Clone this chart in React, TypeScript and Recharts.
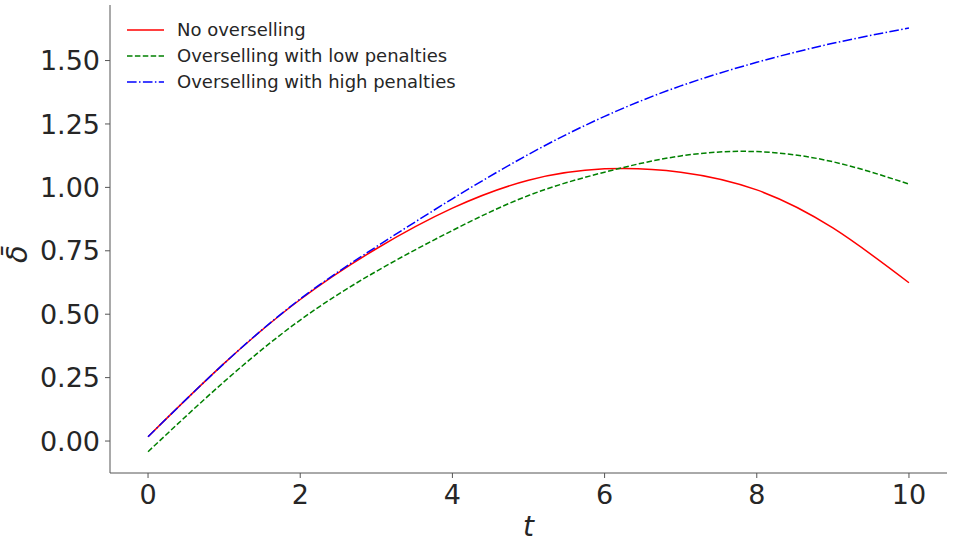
import React from 'react';
import { LineChart, Line, XAxis, YAxis } from 'recharts';

// values
const tValues = [0, 1, 2, 3, 4, 5, 6, 7, 8, 9, 10];
const noOverselling = [0.017, 0.306, 0.558, 0.758, 0.918, 1.028, 1.073, 1.06, 0.99, 0.84, 0.624];
const lowPenalties = [-0.042, 0.234, 0.477, 0.669, 0.83, 0.968, 1.06, 1.124, 1.141, 1.101, 1.013];
const highPenalties = [0.017, 0.306, 0.56, 0.766, 0.955, 1.13, 1.28, 1.4, 1.493, 1.568, 1.628];

const xTicks = [0, 2, 4, 6, 8, 10];
const yTicks = [0, 0.25, 0.5, 0.75, 1.0, 1.25, 1.5];

const series = [
  { key: 'none', name: 'No overselling', color: '#ff0000', dash: undefined },
  { key: 'low', name: 'Overselling with low penalties', color: '#008000', dash: '5.5 2.4' },
  { key: 'high', name: 'Overselling with high penalties', color: '#0000ff', dash: '9.6 2.4 1.5 2.4' },
];

const chartData = tValues.map((t, i) => ({
  t,
  none: noOverselling[i],
  low: lowPenalties[i],
  high: highPenalties[i],
}));

const FONT = '"DejaVu Sans", sans-serif';
const TEXT = '#262626';
const SPINE = '#555555';

const LegendBox = () => (
  <div
    style={{
      position: 'absolute',
      left: 127,
      top: 17,
      fontFamily: FONT,
      fontSize: 18,
      color: TEXT,
      lineHeight: '26px',
    }}
  >
    {series.map((s) => (
      <div key={s.key} style={{ display: 'flex', alignItems: 'center', height: 26 }}>
        <svg width={37} height={6} style={{ marginRight: 13 }}>
          <line x1={0} y1={3} x2={37} y2={3} stroke={s.color} strokeWidth={1.5} strokeDasharray={s.dash} />
        </svg>
        <span>{s.name}</span>
      </div>
    ))}
  </div>
);

const YLabel = (props: any) => {
  const vb = props.viewBox || { x: 0, y: 0, width: 110, height: 468 };
  const cx = vb.x + 27;
  const cy = vb.y + vb.height / 2 + 15;
  return (
    <text
      x={cx}
      y={cy}
      transform={`rotate(-90, ${cx}, ${cy})`}
      textAnchor="middle"
      fontFamily={FONT}
      fontStyle="italic"
      fontSize={29}
      fill={TEXT}
    >
      δ̄
    </text>
  );
};

export default function App() {
  return (
    <div style={{ position: 'relative', width: 954, height: 548 }}>
      <style>{`body { margin: 0; background: #fff; }`}</style>
      <LineChart
        width={954}
        height={548}
        data={chartData}
        margin={{ top: 5, right: 7, left: 0, bottom: 0 }}
      >
        <XAxis
          dataKey="t"
          type="number"
          domain={[-0.5, 10.5]}
          ticks={xTicks}
          allowDataOverflow
          height={75}
          stroke={SPINE}
          tickSize={5}
          tickMargin={7}
          tick={{ fill: TEXT, fontSize: 27, fontFamily: FONT }}
          label={{
            value: 't',
            position: 'insideBottom',
            offset: 12,
            fill: TEXT,
            fontSize: 28,
            fontStyle: 'italic',
            fontFamily: FONT,
          }}
        />
        <YAxis
          type="number"
          domain={[-0.126, 1.719]}
          ticks={yTicks}
          allowDataOverflow
          width={110}
          stroke={SPINE}
          tickSize={5}
          tickMargin={5}
          tickFormatter={(v: number) => v.toFixed(2)}
          tick={{ fill: TEXT, fontSize: 27, fontFamily: FONT }}
          label={<YLabel />}
        />
        {series.map((s) => (
          <Line
            key={s.key}
            dataKey={s.key}
            name={s.name}
            type="natural"
            stroke={s.color}
            strokeWidth={1.5}
            strokeDasharray={s.dash}
            dot={false}
            activeDot={false}
            isAnimationActive={false}
          />
        ))}
      </LineChart>
      <LegendBox />
    </div>
  );
}
